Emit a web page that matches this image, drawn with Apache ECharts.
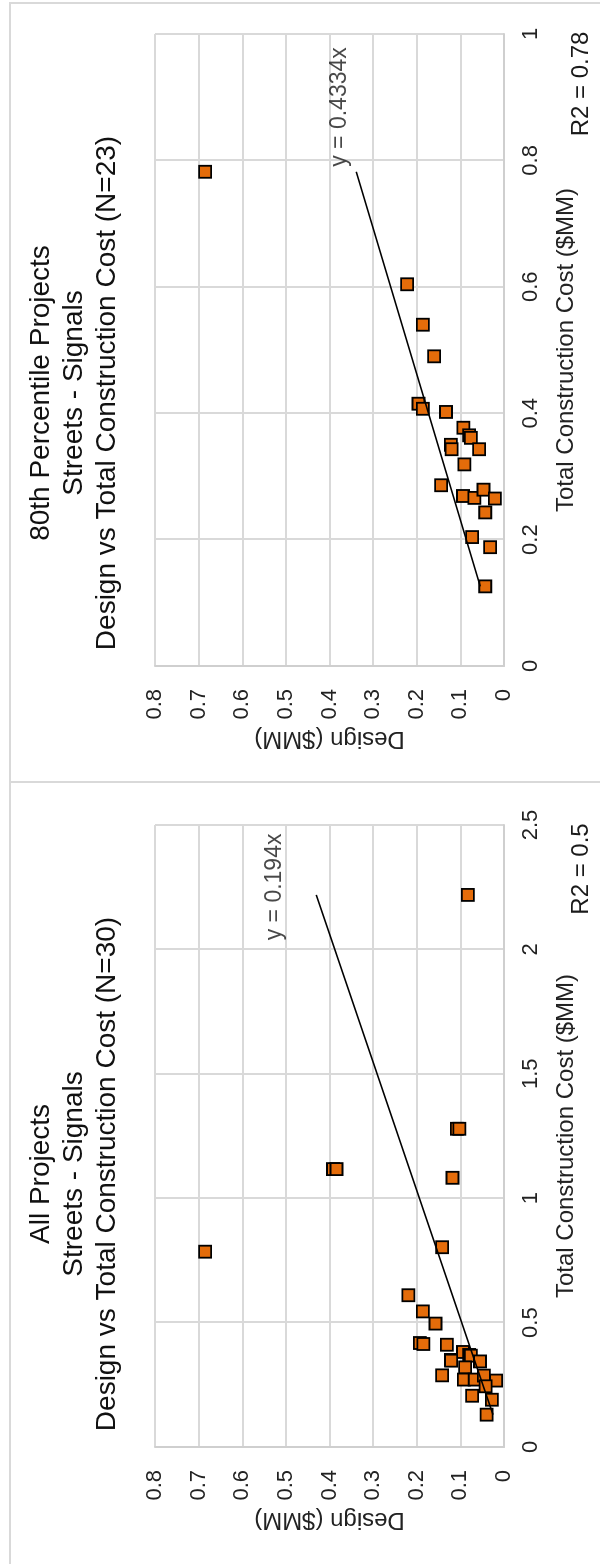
<!DOCTYPE html>
<html><head><meta charset="utf-8">
<script src="https://cdn.jsdelivr.net/npm/echarts@6/dist/echarts.min.js"></script>
<style>
html,body{margin:0;padding:0;width:600px;height:1564px;overflow:hidden;background:#fff}
#wrap{position:absolute;left:0;top:1564px;width:1564px;height:600px;transform-origin:0 0;transform:rotate(-90deg);}
</style></head><body><div id="wrap"></div>
<script>
// ---- Data (Total Construction Cost $MM, Design $MM) ----
const allTitle = ['All Projects', 'Streets - Signals', 'Design vs Total Construction Cost (N=30)'];
const p80Title = ['80th Percentile Projects', 'Streets - Signals', 'Design vs Total Construction Cost (N=23)'];

const allCost = [0.785, 1.082, 0.803, 0.610, 0.545, 0.496, 0.418, 0.414, 0.411, 0.382, 0.370, 0.367, 0.350, 0.347, 0.344, 0.320, 0.288, 0.271, 0.271, 0.287, 0.267, 0.244, 0.206, 0.190, 0.130, 1.117, 1.117, 1.279, 1.279, 2.219];
const allDesign = [0.685, 0.118, 0.142, 0.219, 0.186, 0.157, 0.193, 0.185, 0.131, 0.094, 0.080, 0.076, 0.122, 0.121, 0.055, 0.089, 0.142, 0.092, 0.067, 0.046, 0.018, 0.042, 0.073, 0.028, 0.040, 0.392, 0.384, 0.108, 0.1025, 0.083];

const p80Cost = [0.782, 0.604, 0.540, 0.490, 0.415, 0.407, 0.402, 0.377, 0.365, 0.361, 0.350, 0.343, 0.343, 0.319, 0.286, 0.269, 0.266, 0.279, 0.265, 0.243, 0.204, 0.188, 0.126];
const p80Design = [0.685, 0.222, 0.186, 0.160, 0.196, 0.186, 0.133, 0.093, 0.080, 0.076, 0.122, 0.120, 0.057, 0.091, 0.144, 0.094, 0.068, 0.047, 0.021, 0.043, 0.073, 0.032, 0.043];

const allSlope = 0.194, allR2 = '0.5';
const p80Slope = 0.4334, p80R2 = '0.78';
const allEqPos = [2.251, 0.525];
const p80EqPos = [0.8845, 0.376];

const allCostTicks = {min: 0, max: 2.5, interval: 0.5};
const p80CostTicks = {min: 0, max: 1, interval: 0.2};
const designTicks = {min: 0, max: 0.8, interval: 0.1};

// ---- Chart ----
const FONT = '"Liberation Sans", Arial, sans-serif';
const TXT = '#222';
const chart = echarts.init(document.getElementById('wrap'), null, {width: 1564, height: 600});

function pts(xs, ys) { return xs.map((x, i) => [x, ys[i]]); }
function trend(xs, k) {
  const lo = Math.min(...xs), hi = Math.max(...xs);
  return [[lo, k * lo], [hi, k * hi]];
}
function xAx(i, t) {
  return {gridIndex: i, type: 'value', min: t.min, max: t.max, interval: t.interval,
    name: 'Total Construction Cost ($MM)', nameLocation: 'middle', nameGap: 50,
    nameTextStyle: {fontFamily: FONT, fontSize: 24, color: TXT},
    axisLine: {show: true, lineStyle: {color: '#cfcfcf', width: 2}},
    axisTick: {show: false},
    axisLabel: {fontFamily: FONT, fontSize: 22, color: TXT, margin: 16},
    splitLine: {show: true, lineStyle: {color: '#d9d9d9', width: 2}}};
}
function yAx(i) {
  return {gridIndex: i, type: 'value', min: designTicks.min, max: designTicks.max, interval: designTicks.interval,
    name: 'Design ($MM)', nameLocation: 'middle', nameGap: 61, nameRotate: 90,
    nameTextStyle: {fontFamily: FONT, fontSize: 24, color: TXT},
    axisLine: {show: true, lineStyle: {color: '#cfcfcf', width: 2}},
    axisTick: {show: false},
    axisLabel: {fontFamily: FONT, fontSize: 22, color: TXT, margin: 23},
    splitLine: {show: true, lineStyle: {color: '#d9d9d9', width: 2}}};
}
function scat(i, data) {
  return {type: 'scatter', xAxisIndex: i, yAxisIndex: i, data: data, symbol: 'rect', symbolSize: 12,
    itemStyle: {color: '#E46C0A', borderColor: '#000', borderWidth: 1.8, opacity: 1}, z: 3, silent: true};
}
function tline(i, data) {
  return {type: 'line', xAxisIndex: i, yAxisIndex: i, data: data, symbol: 'none',
    lineStyle: {color: '#000', width: 1.6}, z: 4, silent: true};
}
function eq(i, pos, text) {
  return {type: 'scatter', xAxisIndex: i, yAxisIndex: i, data: [pos], symbolSize: 0, z: 5, silent: true,
    label: {show: true, position: 'inside', formatter: text, fontFamily: FONT, fontSize: 23, color: '#1a1a1a'}};
}
function titleText(x, lines) {
  return {type: 'text', x: x, y: 25, z: 10, style: {text: lines.join('\n'), x: 0, y: 0,
    font: '28px ' + FONT, fill: '#111', align: 'center', textAlign: 'center',
    verticalAlign: 'top', textVerticalAlign: 'top', lineHeight: 33}};
}
function r2Text(x, v) {
  return {type: 'text', x: x, y: 581, z: 10, style: {text: 'R2 = ' + v, x: 0, y: 0,
    font: '24px ' + FONT, fill: '#1a1a1a', align: 'center', textAlign: 'center',
    verticalAlign: 'middle', textVerticalAlign: 'middle'}};
}

chart.setOption({
  animation: false,
  backgroundColor: '#fff',
  grid: [
    {left: 117, width: 622, top: 155, height: 349},
    {left: 898, width: 632, top: 155, height: 349}
  ],
  xAxis: [xAx(0, allCostTicks), xAx(1, p80CostTicks)],
  yAxis: [yAx(0), yAx(1)],
  series: [
    scat(0, pts(allCost, allDesign)),
    tline(0, trend(allCost, allSlope)),
    eq(0, allEqPos, 'y = ' + allSlope + 'x'),
    scat(1, pts(p80Cost, p80Design)),
    tline(1, trend(p80Cost, p80Slope)),
    eq(1, p80EqPos, 'y = ' + p80Slope + 'x')
  ],
  graphic: [
    {type: 'rect', z: 0, shape: {x: -10, y: 10, width: 792, height: 700}, style: {fill: 'none', stroke: '#d9d9d9', lineWidth: 2}},
    {type: 'rect', z: 0, shape: {x: 782, y: 10, width: 779, height: 700}, style: {fill: 'none', stroke: '#d9d9d9', lineWidth: 2}},
    titleText(390, allTitle),
    titleText(1171, p80Title),
    r2Text(695, allR2),
    r2Text(1480, p80R2)
  ]
});
</script></body></html>
